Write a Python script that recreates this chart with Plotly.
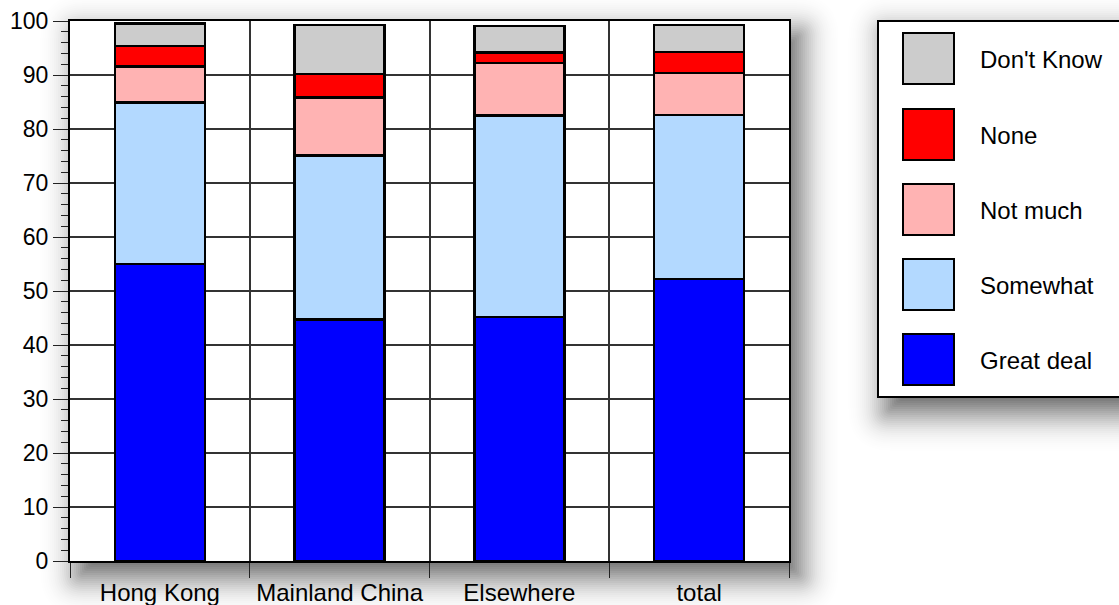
import math
import plotly.graph_objects as go

# Survey responses by place, stacked to ~100%
regions = ["Hong Kong", "Mainland China", "Elsewhere", "total"]
series_names = ["Great deal", "Somewhat", "Not much", "None", "Don't Know"]
great_deal = [55.0, 44.7, 45.2, 52.2]
somewhat = [29.9, 30.4, 37.3, 30.4]
not_much = [6.7, 10.7, 9.7, 7.8]
none_ = [3.8, 4.4, 2.0, 3.9]
dont_know = [4.1, 9.1, 4.9, 5.0]
series_values = [great_deal, somewhat, not_much, none_, dont_know]
series_colors = ["#0000FF", "#B3D9FF", "#FFB3B3", "#FF0000", "#CCCCCC"]
y_ticks = [0, 10, 20, 30, 40, 50, 60, 70, 80, 90, 100]

W, H = 1119, 605
PL, PR, PT, PB = 70, 789, 21, 561  # plot area in pixels

FONT = "Liberation Sans, Arial, Helvetica, sans-serif"


def px_x(x):
    return (x - PL) / (PR - PL)


def px_y(y):
    return (PB - y) / (PB - PT)


def rounded_rect_path(x0, y0, x1, y1, r):
    r = max(0.0, min(r, (x1 - x0) / 2, (y1 - y0) / 2))
    pts = [
        ("M", [(x0 + r, y0)]),
        ("L", [(x1 - r, y0)]),
        ("Q", [(x1, y0), (x1, y0 + r)]),
        ("L", [(x1, y1 - r)]),
        ("Q", [(x1, y1), (x1 - r, y1)]),
        ("L", [(x0 + r, y1)]),
        ("Q", [(x0, y1), (x0, y1 - r)]),
        ("L", [(x0, y0 + r)]),
        ("Q", [(x0, y0), (x0 + r, y0)]),
    ]
    parts = []
    for cmd, coords in pts:
        parts.append(cmd + " ".join("%.5f,%.5f" % (px_x(a), px_y(b)) for a, b in coords))
    return " ".join(parts) + " Z"


def soft_shadow(x0, y0, x1, y1, dx, dy, strength, sigma, step=2.0):
    """Stack of translucent rounded rects approximating a blurred drop shadow."""
    def dark(d):
        return strength * 0.5 * math.erfc(d / (sigma * math.sqrt(2)))

    out = []
    s = 3 * sigma
    while s > -3 * sigma:
        t_out = 1 - dark(s + step / 2)
        t_in = 1 - dark(s - step / 2)
        a = 1 - t_in / t_out
        if a > 0.0005:
            out.append(dict(
                type="path", xref="paper", yref="paper", layer="below",
                path=rounded_rect_path(x0 + dx - s, y0 + dy - s, x1 + dx + s, y1 + dy + s,
                                       max(s, 0) + 3),
                line=dict(width=0), fillcolor="rgba(0,0,0,%.4f)" % a,
            ))
        s -= step
    return out


fig = go.Figure()
for name, vals, col in zip(series_names, series_values, series_colors):
    fig.add_trace(go.Bar(
        x=regions, y=vals, name=name, width=0.5,
        marker=dict(color=col, line=dict(color="black", width=2.5)),
        showlegend=False,
    ))

shapes = []
# drop shadow behind the plot area
shapes += soft_shadow(PL, PT, PR, PB, 10, 14, 0.66, 18)
# white plot face
shapes.append(dict(type="rect", xref="paper", yref="paper", layer="below",
                   x0=0, x1=1, y0=0, y1=1, line=dict(width=0), fillcolor="white"))

# legend box with its own shadow
LX0, LY0, LX1, LY1 = 878, 21, 1140, 397
shapes += soft_shadow(LX0, LY0, LX1, LY1, 10, 14, 0.66, 18)
shapes.append(dict(type="rect", xref="paper", yref="paper", layer="below",
                   x0=px_x(LX0), x1=px_x(LX1), y0=px_y(LY1), y1=px_y(LY0),
                   line=dict(color="black", width=2), fillcolor="white"))

annotations = []
sw_top = [334, 259, 184, 109, 33]
for name, col, top in zip(series_names, series_colors, sw_top):
    shapes.append(dict(type="rect", xref="paper", yref="paper", layer="above",
                       x0=px_x(903), x1=px_x(954), y0=px_y(top + 51), y1=px_y(top),
                       line=dict(color="black", width=2), fillcolor=col))
    annotations.append(dict(xref="paper", yref="paper", x=px_x(978), y=px_y(top + 26),
                            text=name, showarrow=False, xanchor="left", yanchor="middle",
                            font=dict(family=FONT, size=24, color="black")))

fig.update_layout(
    width=W, height=H, autosize=False,
    margin=dict(l=PL, r=W - PR, t=PT, b=H - PB, pad=0),
    barmode="stack",
    paper_bgcolor="white", plot_bgcolor="rgba(0,0,0,0)",
    shapes=shapes, annotations=annotations,
    font=dict(family=FONT, size=24, color="black"),
    showlegend=False,
)
fig.update_xaxes(
    type="category", range=[-0.5, 3.5], automargin=False,
    showgrid=True, gridcolor="#333333", gridwidth=1.5,
    tickson="boundaries", ticks="outside", ticklen=15, tickcolor="#222222", tickwidth=1,
    ticklabelstandoff=9,
    showline=True, linecolor="black", linewidth=2, mirror=True,
    tickfont=dict(family=FONT, size=24, color="black"),
)
fig.update_yaxes(
    range=[0, 100], tickvals=y_ticks, ticktext=[str(v) for v in y_ticks], automargin=False,
    showgrid=True, gridcolor="#333333", gridwidth=1.5, zeroline=False,
    ticks="outside", ticklen=15, tickcolor="#222222", tickwidth=1,
    minor=dict(dtick=2, ticks="outside", ticklen=7, tickcolor="#222222", showgrid=False),
    showline=True, linecolor="black", linewidth=2, mirror=True,
    tickfont=dict(family=FONT, size=23, color="black"),
)

fig.write_html("out.html")
